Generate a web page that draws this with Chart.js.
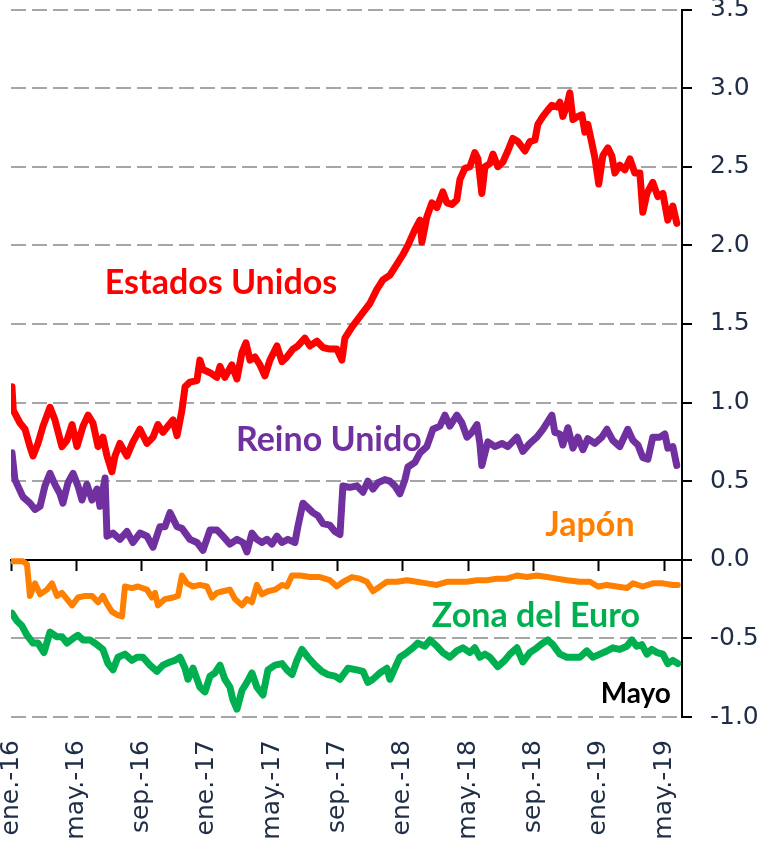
<!DOCTYPE html>
<html lang="es">
<head>
<meta charset="utf-8">
<title>Tasas a 2 años</title>
<script src="https://cdn.jsdelivr.net/npm/chart.js@4.4.1/dist/chart.umd.min.js"></script>
<style>
  html, body { margin: 0; padding: 0; background: #fff; }
  #grafico { display: block; }
</style>
</head>
<body>
<canvas id="grafico" width="761" height="846"></canvas>
<script>
// eje x: meses transcurridos desde ene.-16
const etiquetasX = ['ene.-16', 'may.-16', 'sep.-16', 'ene.-17', 'may.-17', 'sep.-17',
                    'ene.-18', 'may.-18', 'sep.-18', 'ene.-19', 'may.-19'];

// Estados Unidos
const eeuuMes = [0.06,0.14,0.55,0.86,1.16,1.35,1.65,1.96,2.39,2.69,3.12,3.43,3.74,4.04,4.41,4.72,5.02,5.33,5.63,5.88,
  6.18,6.37,6.67,7.10,7.47,7.90,8.33,8.70,9.00,9.31,9.61,9.92,10.17,10.47,10.66,10.96,11.39,11.57,11.76,12.19,
  12.61,12.80,13.10,13.53,13.84,14.15,14.39,14.64,14.94,15.25,15.55,15.86,16.29,16.60,16.90,17.27,17.57,18.00,18.31,18.74,
  19.11,19.53,19.96,20.27,20.45,20.88,21.25,21.68,21.98,22.41,22.78,23.21,23.64,24.00,24.31,24.74,25.05,25.17,25.47,25.78,
  26.09,26.45,26.70,27.01,27.31,27.50,27.80,28.11,28.41,28.60,28.84,29.03,29.33,29.52,29.82,30.13,30.43,30.74,31.05,31.48,
  31.78,32.09,32.27,32.58,32.88,33.13,33.44,33.62,33.80,34.05,34.23,34.42,34.72,34.97,35.15,35.33,35.58,35.76,36.00,36.25,
  36.56,36.80,36.99,37.29,37.60,37.91,38.21,38.52,38.70,38.95,39.31,39.62,39.93,40.23,40.54,40.78];
const eeuuVal = [1.10,0.95,0.87,0.83,0.72,0.66,0.74,0.85,0.97,0.89,0.72,0.76,0.86,0.72,0.85,0.92,0.87,0.72,0.78,0.66,
  0.56,0.66,0.74,0.66,0.75,0.83,0.74,0.78,0.86,0.81,0.85,0.89,0.79,0.95,1.10,1.13,1.14,1.27,1.21,1.19,
  1.16,1.23,1.16,1.24,1.15,1.32,1.38,1.27,1.29,1.24,1.17,1.27,1.36,1.26,1.29,1.34,1.36,1.41,1.36,1.39,
  1.35,1.34,1.34,1.27,1.41,1.48,1.53,1.59,1.63,1.72,1.78,1.81,1.88,1.94,2.00,2.10,2.16,2.02,2.18,2.27,
  2.24,2.34,2.27,2.26,2.29,2.42,2.49,2.50,2.59,2.55,2.33,2.50,2.52,2.58,2.50,2.53,2.60,2.68,2.66,2.60,
  2.66,2.67,2.77,2.82,2.86,2.89,2.88,2.91,2.82,2.89,2.97,2.80,2.82,2.83,2.72,2.77,2.65,2.56,2.39,2.57,
  2.62,2.57,2.46,2.51,2.48,2.55,2.46,2.46,2.21,2.33,2.40,2.31,2.33,2.16,2.25,2.14];

// Reino Unido
const ruMes = [0.06,0.24,0.73,1.16,1.47,1.78,2.08,2.39,2.69,3.00,3.18,3.49,3.80,4.10,4.35,4.65,4.96,5.27,5.45,5.76,
  5.88,6.25,6.67,7.10,7.47,7.90,8.33,8.70,9.12,9.43,9.74,10.17,10.47,10.96,11.39,11.76,12.19,12.61,12.98,13.41,
  13.84,14.21,14.45,14.76,15.06,15.37,15.68,15.98,16.29,16.60,16.96,17.39,17.57,17.88,18.19,18.49,18.80,19.11,19.53,19.84,
  20.15,20.33,20.76,21.19,21.56,21.86,22.17,22.47,22.90,23.21,23.51,23.82,24.13,24.31,24.74,25.05,25.47,25.84,26.27,26.58,
  26.88,27.31,27.62,27.93,28.23,28.54,28.72,28.84,29.03,29.21,29.64,30.07,30.43,30.99,31.35,31.78,32.21,32.58,33.13,33.31,
  33.62,33.80,34.11,34.42,34.72,35.03,35.33,35.76,36.19,36.50,36.86,37.29,37.78,38.09,38.40,38.70,39.01,39.31,39.74,40.05,
  40.23,40.54,40.78];
const ruVal = [0.68,0.51,0.40,0.36,0.32,0.34,0.47,0.55,0.48,0.42,0.36,0.49,0.55,0.47,0.38,0.48,0.38,0.45,0.34,0.52,
  0.15,0.17,0.13,0.18,0.11,0.17,0.15,0.08,0.21,0.21,0.30,0.21,0.20,0.13,0.11,0.06,0.19,0.19,0.15,0.10,
  0.13,0.11,0.05,0.17,0.13,0.11,0.13,0.10,0.15,0.11,0.13,0.11,0.21,0.36,0.33,0.30,0.28,0.23,0.22,0.18,
  0.16,0.47,0.46,0.47,0.43,0.50,0.45,0.49,0.51,0.50,0.47,0.42,0.51,0.59,0.62,0.68,0.72,0.83,0.85,0.92,
  0.85,0.92,0.87,0.78,0.81,0.86,0.74,0.60,0.68,0.75,0.72,0.74,0.72,0.78,0.69,0.74,0.78,0.83,0.92,0.81,
  0.80,0.73,0.84,0.71,0.78,0.70,0.77,0.74,0.78,0.83,0.76,0.72,0.83,0.76,0.73,0.65,0.64,0.78,0.78,0.80,
  0.71,0.72,0.60];

// Japón
const jpMes = [0.06,0.73,0.98,1.16,1.47,1.78,2.20,2.51,2.82,3.12,3.43,3.74,4.10,4.53,4.96,5.33,5.63,5.88,6.18,6.49,
  6.80,6.98,7.41,7.78,8.33,8.63,8.82,9.00,9.43,9.92,10.23,10.47,10.78,11.15,11.57,12.00,12.31,12.61,12.98,13.41,
  13.72,14.15,14.45,14.76,15.06,15.37,15.74,16.17,16.60,16.90,17.21,17.70,18.31,18.92,19.53,19.96,20.33,20.88,21.37,21.80,
  22.17,22.60,23.02,23.64,24.25,24.86,25.47,26.09,26.70,27.31,27.92,28.54,29.15,29.76,30.37,30.99,31.60,32.21,32.82,33.44,
  34.05,34.84,35.46,35.95,36.50,37.11,37.72,38.09,38.70,39.31,39.93,40.54,40.84];
const jpVal = [-0.01,-0.01,-0.03,-0.23,-0.15,-0.22,-0.19,-0.15,-0.23,-0.21,-0.25,-0.29,-0.24,-0.23,-0.23,-0.27,-0.23,-0.28,-0.33,-0.35,
  -0.36,-0.17,-0.18,-0.17,-0.19,-0.24,-0.21,-0.29,-0.25,-0.24,-0.23,-0.10,-0.15,-0.17,-0.16,-0.17,-0.24,-0.21,-0.20,-0.19,
  -0.25,-0.29,-0.25,-0.27,-0.16,-0.22,-0.20,-0.19,-0.16,-0.17,-0.10,-0.10,-0.11,-0.11,-0.13,-0.17,-0.14,-0.11,-0.12,-0.14,
  -0.20,-0.17,-0.14,-0.14,-0.13,-0.14,-0.15,-0.16,-0.14,-0.14,-0.14,-0.13,-0.13,-0.12,-0.12,-0.10,-0.11,-0.10,-0.11,-0.12,
  -0.13,-0.14,-0.14,-0.17,-0.16,-0.17,-0.18,-0.15,-0.17,-0.15,-0.15,-0.16,-0.16];

// Zona del Euro
const zeMes = [0.06,0.37,0.67,0.98,1.35,1.65,2.02,2.39,2.82,3.12,3.43,3.80,4.10,4.41,4.84,5.27,5.63,5.94,6.25,6.55,
  6.98,7.41,7.72,8.08,8.51,8.94,9.31,9.74,10.04,10.35,10.66,10.84,11.15,11.57,11.88,12.19,12.49,12.80,13.10,13.41,
  13.59,13.84,14.15,14.45,14.76,15.06,15.43,15.74,16.17,16.60,16.90,17.21,17.51,17.82,18.19,18.62,19.04,19.41,19.84,20.15,
  20.64,21.19,21.56,21.86,22.17,22.60,23.02,23.21,23.64,23.82,24.25,24.62,24.92,25.35,25.66,26.09,26.45,26.88,27.31,27.68,
  28.11,28.41,28.72,29.03,29.33,29.82,30.25,30.56,30.99,31.35,31.78,32.21,32.58,32.88,33.19,33.62,34.05,34.42,34.84,35.27,
  35.64,36.07,36.50,36.86,37.29,37.72,38.03,38.33,38.64,38.95,39.25,39.56,39.93,40.23,40.54,40.84];
const zeVal = [-0.34,-0.39,-0.42,-0.48,-0.53,-0.53,-0.59,-0.46,-0.49,-0.49,-0.53,-0.50,-0.48,-0.51,-0.51,-0.54,-0.57,-0.66,-0.70,-0.62,
  -0.60,-0.64,-0.62,-0.62,-0.67,-0.71,-0.67,-0.65,-0.64,-0.62,-0.69,-0.76,-0.69,-0.81,-0.84,-0.74,-0.72,-0.67,-0.76,-0.81,
  -0.89,-0.95,-0.83,-0.78,-0.72,-0.81,-0.86,-0.70,-0.67,-0.66,-0.70,-0.73,-0.64,-0.57,-0.62,-0.67,-0.71,-0.73,-0.74,-0.76,
  -0.69,-0.70,-0.71,-0.78,-0.76,-0.72,-0.69,-0.76,-0.66,-0.62,-0.59,-0.56,-0.53,-0.55,-0.51,-0.55,-0.59,-0.62,-0.58,-0.56,
  -0.59,-0.56,-0.62,-0.60,-0.62,-0.68,-0.64,-0.60,-0.56,-0.65,-0.59,-0.56,-0.53,-0.51,-0.54,-0.60,-0.62,-0.62,-0.62,-0.58,
  -0.62,-0.60,-0.58,-0.56,-0.57,-0.55,-0.51,-0.55,-0.54,-0.60,-0.57,-0.59,-0.60,-0.66,-0.64,-0.66];

const azul = '#1f2d46';
const fuenteEje = { family: "'DejaVu Sans', Verdana, sans-serif", size: 25 };
const mesMax = 41.1;

const puntos = (meses, valores) => meses.map((m, i) => ({ x: m, y: valores[i] }));
const ticksMeses = s => { s.ticks = etiquetasX.map((_, i) => ({ value: i * 4 })); };

function serie(label, meses, valores, color, grosor) {
    return {
        label, data: puntos(meses, valores),
        borderColor: color, borderWidth: grosor,
        borderJoinStyle: 'round', borderCapStyle: 'round',
        pointRadius: 0, tension: 0, fill: false
    };
}

// rótulos de las series, dibujados sobre el área del gráfico
const rotulos = {
    id: 'rotulos',
    afterDatasetsDraw(chart, args, opts) {
        const { ctx, scales: { x, y } } = chart;
        ctx.save();
        ctx.textAlign = 'center';
        ctx.textBaseline = 'alphabetic';
        opts.items.forEach(r => {
            ctx.font = r.font;
            ctx.fillStyle = r.color;
            ctx.fillText(r.text, x.getPixelForValue(r.mes), y.getPixelForValue(r.valor));
        });
        ctx.restore();
    }
};

new Chart(document.getElementById('grafico'), {
    type: 'line',
    data: {
        datasets: [
            serie('Estados Unidos', eeuuMes, eeuuVal, '#ff0000', 7),
            serie('Reino Unido', ruMes, ruVal, '#7030a0', 7),
            serie('Japón', jpMes, jpVal, '#ff8000', 6),
            serie('Zona del Euro', zeMes, zeVal, '#00b050', 7)
        ]
    },
    options: {
        responsive: false,
        animation: false,
        layout: { padding: { left: 11, top: 9.5, right: 0, bottom: 0 } },
        plugins: {
            legend: { display: false },
            tooltip: { enabled: false },
            rotulos: {
                items: [
                    { text: 'Estados Unidos', color: '#ff0000', font: "bold 34px Lato", mes: 12.86, valor: 1.69 },
                    { text: 'Reino Unido', color: '#7030a0', font: "bold 34px Lato", mes: 19.47, valor: 0.69 },
                    { text: 'Japón', color: '#ff8000', font: "bold 34px Lato", mes: 35.46, valor: 0.15 },
                    { text: 'Zona del Euro', color: '#00b050', font: "bold 34px Lato", mes: 32.15, valor: -0.43 },
                    { text: 'Mayo', color: '#000000', font: "bold 28px Lato", mes: 38.27, valor: -0.91 }
                ]
            }
        },
        scales: {
            x: {
                type: 'linear', position: 'bottom', min: 0, max: mesMax,
                afterBuildTicks: ticksMeses,
                afterFit: s => { s.paddingLeft = 0; s.paddingRight = 0; s.height = 129; },
                grid: { display: false, drawTicks: false },
                border: { display: false },
                ticks: {
                    minRotation: 90, maxRotation: 90, padding: 23, autoSkip: false,
                    color: azul, font: fuenteEje,
                    callback: v => etiquetasX[Math.round(v / 4)]
                }
            },
            x0: {
                type: 'linear', position: { y: 0 }, min: 0, max: mesMax,
                afterBuildTicks: ticksMeses,
                grid: { drawOnChartArea: false, drawTicks: true, tickLength: 10, tickColor: '#000', tickWidth: 2 },
                border: { color: '#000', width: 2 },
                ticks: { display: false }
            },
            y: {
                position: 'right', min: -1, max: 3.5,
                afterFit: s => { s.paddingTop = 0; s.paddingBottom = 0; s.width = 79; },
                ticks: { stepSize: 0.5, padding: 18, color: azul, font: fuenteEje, callback: v => v.toFixed(1) },
                grid: {
                    color: c => (c.tick && c.tick.value === 0) ? 'rgba(0,0,0,0)' : '#a6a6a6',
                    lineWidth: 2, tickLength: 10, tickColor: '#000', tickWidth: 2
                },
                border: { color: '#000', width: 2, dash: [15, 6] }
            }
        }
    },
    plugins: [rotulos]
});
</script>
</body>
</html>
